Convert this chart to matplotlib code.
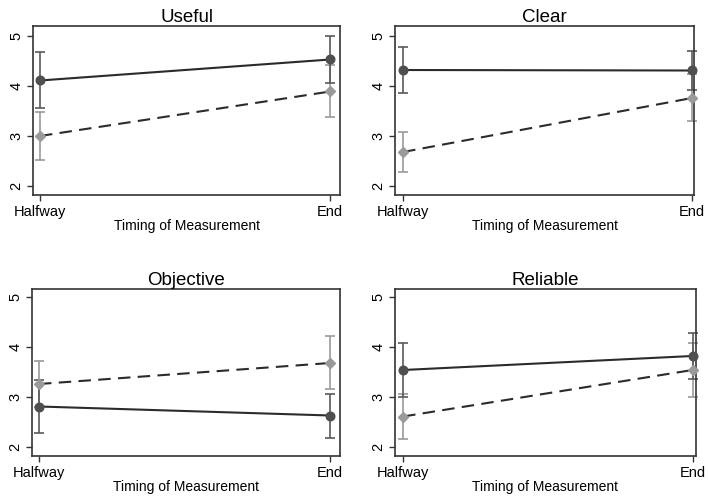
import numpy as np
import matplotlib
matplotlib.use('Agg')
import matplotlib.pyplot as plt

plt.rcParams['font.family'] = ['Liberation Sans', 'DejaVu Sans']

timing = ['Halfway', 'End']
panels = ['Useful', 'Clear', 'Objective', 'Reliable']

# solid line, dark circles
solid_mean = [[4.11, 4.53], [4.32, 4.31], [2.81, 2.63], [3.54, 3.82]]
solid_err = [[0.56, 0.47], [0.46, 0.39], [0.52, 0.44], [0.54, 0.46]]
# dashed line, grey diamonds
dash_mean = [[3.00, 3.89], [2.68, 3.76], [3.26, 3.68], [2.61, 3.54]]
dash_err = [[0.48, 0.52], [0.40, 0.47], [0.45, 0.53], [0.45, 0.54]]

yticks = [2, 3, 4, 5]

fig = plt.figure(figsize=(7.08, 4.98), dpi=100)
W, H = 708, 498
boxes = [(33, 26, 340, 195), (395, 26, 694, 195),
         (32, 289, 340, 456), (395, 289, 696, 456)]
xlims = [(-0.024, 1.034), (-0.028, 1.007), (-0.024, 1.034), (-0.028, 1.012)]
ylims = [(1.82, 5.2), (1.82, 5.2), (1.82, 5.16), (1.82, 5.16)]

x = np.arange(len(timing))
for i, name in enumerate(panels):
    l, t, r, b = boxes[i]
    ax = fig.add_axes([l / W, 1 - b / H, (r - l) / W, (b - t) / H])
    ax.errorbar(x, dash_mean[i], yerr=dash_err[i], fmt='none', ecolor='#9a9a9a',
                elinewidth=1.2, capsize=3.5, capthick=1.2, zorder=2, clip_on=False)
    ax.errorbar(x, solid_mean[i], yerr=solid_err[i], fmt='none', ecolor='#5a5a5a',
                elinewidth=1.2, capsize=3.5, capthick=1.2, zorder=2, clip_on=False)
    ax.plot(x, solid_mean[i], '-', color='#2b2b2b', lw=1.5, zorder=3)
    ax.plot(x, dash_mean[i], '--', color='#2b2b2b', lw=1.5, dashes=(6, 3.5), zorder=3)
    ax.plot(x, solid_mean[i], 'o', color='#4f4f4f', ms=6.2, zorder=4, clip_on=False)
    ax.plot(x, dash_mean[i], 'D', color='#9a9a9a', ms=5.6, zorder=4, clip_on=False)
    ax.set_xlim(*xlims[i])
    ax.set_ylim(*ylims[i])
    ax.set_xticks(x)
    ax.set_xticklabels(timing, fontsize=10.5)
    ax.set_yticks(yticks)
    ax.set_yticklabels([str(v) for v in yticks], fontsize=10.5, rotation=90, va='center')
    ax.tick_params(direction='out', length=4, width=1, color='#333333', pad=3)
    ax.set_xlabel('Timing of Measurement', fontsize=10, labelpad=0.5)
    ax.set_title(name, fontsize=13.5, pad=3)
    for s in ax.spines.values():
        s.set_color('#333333')
        s.set_linewidth(1.2)

fig.savefig('out.png', dpi=100)
